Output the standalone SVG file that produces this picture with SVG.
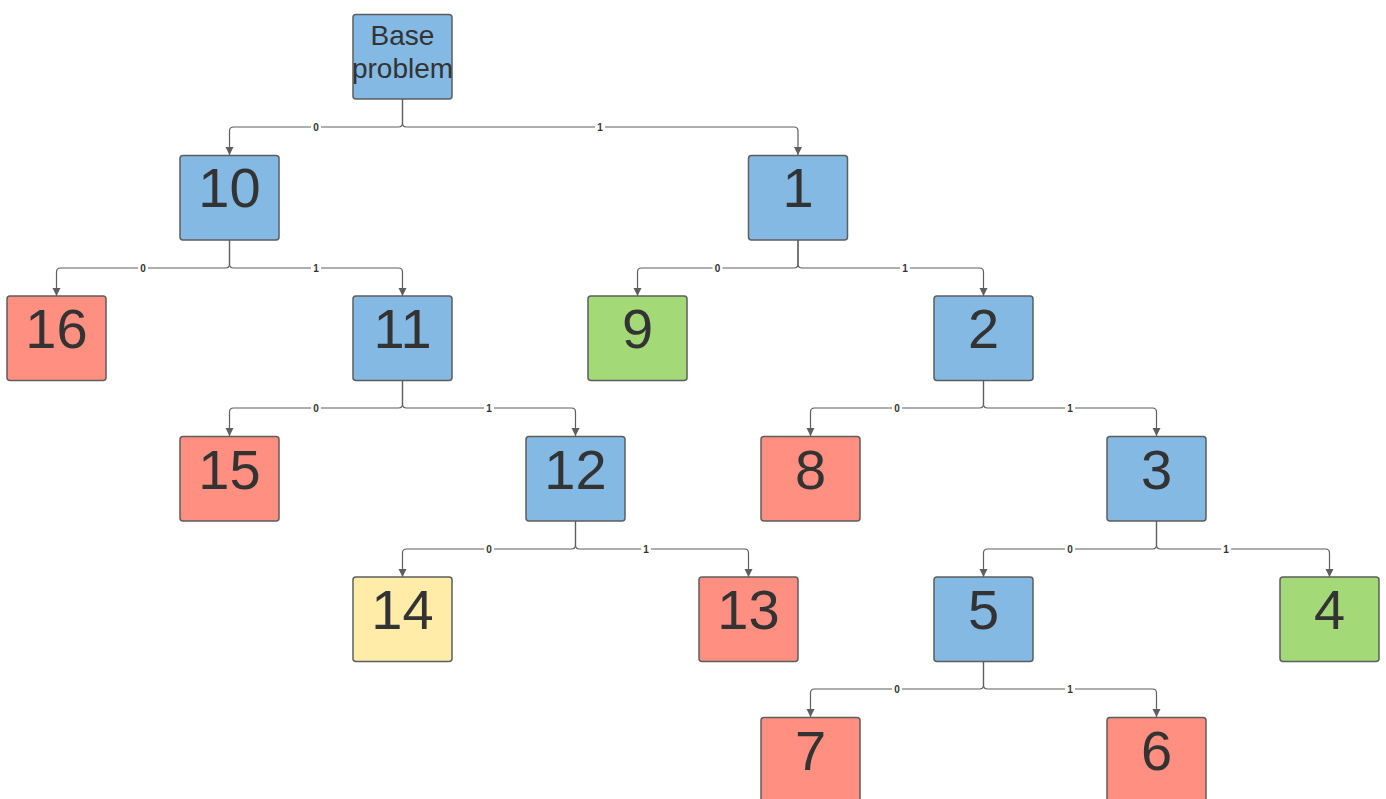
<svg xmlns="http://www.w3.org/2000/svg" width="1386" height="799" viewBox="0 0 1386 799">
<style>
.n rect{stroke:#5e5e5e;stroke-width:1.5}
.b rect{fill:#83b9e3}.r rect{fill:#ff8f80}.g rect{fill:#a3d977}.y rect{fill:#ffeca9}
.n text{font-family:"Liberation Sans",Arial,sans-serif;font-size:56px;fill:#333333;text-anchor:middle}
.c path{fill:none;stroke:#5e5e5e;stroke-width:1.2}
.c text{font-family:"Liberation Sans",Arial,sans-serif;font-size:10px;font-weight:bold;fill:#333333;text-anchor:middle}
.c rect{fill:#ffffff}
</style>
<defs>
<marker id="a" markerWidth="8" markerHeight="10" refX="8" refY="4" orient="auto" markerUnits="userSpaceOnUse" viewBox="0 0 8 8">
<path d="M0,0 L8,4 L0,8 Z" fill="#5e5e5e"/>
</marker>
</defs>
<g class="c" id="connectors">
<path marker-end="url(#a)" d="M402.5,99 V123 Q402.5,127 398.5,127 H233.5 Q229.5,127 229.5,131 V155"/>
<path marker-end="url(#a)" d="M402.5,99 V123 Q402.5,127 406.5,127 H794 Q798,127 798,131 V155"/>
<path marker-end="url(#a)" d="M229.5,240 V264 Q229.5,268 225.5,268 H60.5 Q56.5,268 56.5,272 V296"/>
<path marker-end="url(#a)" d="M229.5,240 V264 Q229.5,268 233.5,268 H398.5 Q402.5,268 402.5,272 V296"/>
<path marker-end="url(#a)" d="M798,240 V264 Q798,268 794,268 H641.5 Q637.5,268 637.5,272 V296"/>
<path marker-end="url(#a)" d="M798,240 V264 Q798,268 802,268 H979.5 Q983.5,268 983.5,272 V296"/>
<path marker-end="url(#a)" d="M402.5,380 V404 Q402.5,408 398.5,408 H233.5 Q229.5,408 229.5,412 V436"/>
<path marker-end="url(#a)" d="M402.5,380 V404 Q402.5,408 406.5,408 H571.5 Q575.5,408 575.5,412 V436"/>
<path marker-end="url(#a)" d="M983.5,380 V404 Q983.5,408 979.5,408 H814.5 Q810.5,408 810.5,412 V436"/>
<path marker-end="url(#a)" d="M983.5,380 V404 Q983.5,408 987.5,408 H1152.5 Q1156.5,408 1156.5,412 V436"/>
<path marker-end="url(#a)" d="M575.5,521 V545 Q575.5,549 571.5,549 H406.5 Q402.5,549 402.5,553 V577"/>
<path marker-end="url(#a)" d="M575.5,521 V545 Q575.5,549 579.5,549 H744.5 Q748.5,549 748.5,553 V577"/>
<path marker-end="url(#a)" d="M1156.5,521 V545 Q1156.5,549 1152.5,549 H987.5 Q983.5,549 983.5,553 V577"/>
<path marker-end="url(#a)" d="M1156.5,521 V545 Q1156.5,549 1160.5,549 H1325.5 Q1329.5,549 1329.5,553 V577"/>
<path marker-end="url(#a)" d="M983.5,661 V685 Q983.5,689 979.5,689 H814.5 Q810.5,689 810.5,693 V717"/>
<path marker-end="url(#a)" d="M983.5,661 V685 Q983.5,689 987.5,689 H1152.5 Q1156.5,689 1156.5,693 V717"/>
<rect x="311" y="121" width="10" height="12"/><text x="316" y="130.5">0</text>
<rect x="595" y="121" width="10" height="12"/><text x="600" y="130.5">1</text>
<rect x="138" y="262" width="10" height="12"/><text x="143" y="271.5">0</text>
<rect x="311" y="262" width="10" height="12"/><text x="316" y="271.5">1</text>
<rect x="712.5" y="262" width="10" height="12"/><text x="717.5" y="271.5">0</text>
<rect x="900" y="262" width="10" height="12"/><text x="905" y="271.5">1</text>
<rect x="311" y="402" width="10" height="12"/><text x="316" y="411.5">0</text>
<rect x="484" y="402" width="10" height="12"/><text x="489" y="411.5">1</text>
<rect x="892" y="402" width="10" height="12"/><text x="897" y="411.5">0</text>
<rect x="1065" y="402" width="10" height="12"/><text x="1070" y="411.5">1</text>
<rect x="484" y="543" width="10" height="12"/><text x="489" y="552.5">0</text>
<rect x="641" y="543" width="10" height="12"/><text x="646" y="552.5">1</text>
<rect x="1065" y="543" width="10" height="12"/><text x="1070" y="552.5">0</text>
<rect x="1221" y="543" width="10" height="12"/><text x="1226" y="552.5">1</text>
<rect x="892" y="683" width="10" height="12"/><text x="897" y="692.5">0</text>
<rect x="1065" y="683" width="10" height="12"/><text x="1070" y="692.5">1</text>
</g>
<g class="n b" id="base"><rect x="353" y="14.5" width="99" height="84.5" rx="3"/><text x="402.5" y="45" style="font-size:28px">Base</text><text x="402.5" y="78" style="font-size:28px">problem</text></g>
<g class="n b" id="n10"><rect x="180" y="155.5" width="99" height="84.5" rx="3"/><text x="229.5" y="207">10</text></g>
<g class="n b" id="n1"><rect x="748.5" y="155.5" width="99" height="84.5" rx="3"/><text x="798" y="207">1</text></g>
<g class="n r" id="n16"><rect x="7" y="296" width="99" height="84.5" rx="3"/><text x="56.5" y="348">16</text></g>
<g class="n b" id="n11"><rect x="353" y="296" width="99" height="84.5" rx="3"/><text x="402.5" y="348">11</text></g>
<g class="n g" id="n9"><rect x="588" y="296" width="99" height="84.5" rx="3"/><text x="637.5" y="348">9</text></g>
<g class="n b" id="n2"><rect x="934" y="296" width="99" height="84.5" rx="3"/><text x="983.5" y="348">2</text></g>
<g class="n r" id="n15"><rect x="180" y="436.5" width="99" height="84.5" rx="3"/><text x="229.5" y="488.5">15</text></g>
<g class="n b" id="n12"><rect x="526" y="436.5" width="99" height="84.5" rx="3"/><text x="575.5" y="488.5">12</text></g>
<g class="n r" id="n8"><rect x="761" y="436.5" width="99" height="84.5" rx="3"/><text x="810.5" y="488.5">8</text></g>
<g class="n b" id="n3"><rect x="1107" y="436.5" width="99" height="84.5" rx="3"/><text x="1156.5" y="488.5">3</text></g>
<g class="n y" id="n14"><rect x="353" y="577" width="99" height="84.5" rx="3"/><text x="402.5" y="629">14</text></g>
<g class="n r" id="n13"><rect x="699" y="577" width="99" height="84.5" rx="3"/><text x="748.5" y="629">13</text></g>
<g class="n b" id="n5"><rect x="934" y="577" width="99" height="84.5" rx="3"/><text x="983.5" y="629">5</text></g>
<g class="n g" id="n4"><rect x="1280" y="577" width="99" height="84.5" rx="3"/><text x="1329.5" y="629">4</text></g>
<g class="n r" id="n7"><rect x="761" y="717.5" width="99" height="84.5" rx="3"/><text x="810.5" y="769.5">7</text></g>
<g class="n r" id="n6"><rect x="1107" y="717.5" width="99" height="84.5" rx="3"/><text x="1156.5" y="769.5">6</text></g>
</svg>
